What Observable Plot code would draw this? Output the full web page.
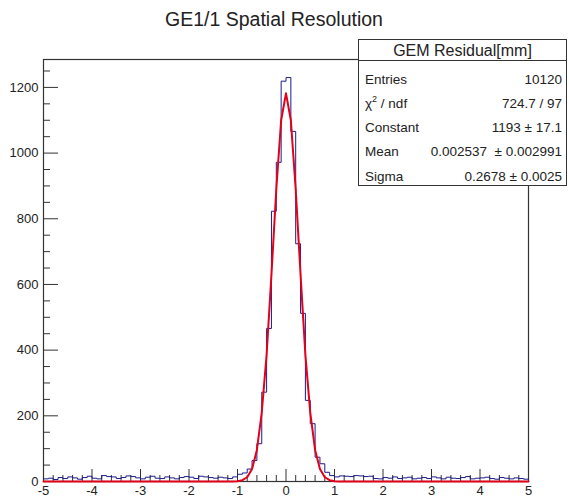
<!DOCTYPE html>
<html><head><meta charset="utf-8">
<script src="https://cdn.jsdelivr.net/npm/d3@7"></script>
<script src="https://cdn.jsdelivr.net/npm/@observablehq/plot@0.6"></script>
<style>
body{margin:0;background:#fff;font-family:"Liberation Sans",Arial,sans-serif;color:#222}
#wrap{position:relative;width:569px;height:497px;overflow:hidden}
#chart{position:absolute;left:0;top:0}
#title{position:absolute;left:0;top:8px;width:548px;text-align:center;font-size:19.5px;line-height:23px;color:#222}
#stats{position:absolute;left:358px;top:39px;width:209px;height:147px;border:1.5px solid #333;background:#fff;box-sizing:border-box}
#stats .hdr{position:absolute;left:0;top:0;width:100%;height:21px;border-bottom:1.5px solid #333;text-align:center;font-size:16px;line-height:22px;box-sizing:border-box}
#stats .row{position:absolute;left:6px;right:4px;height:24.3px;line-height:24.3px;font-size:13.5px}
#stats .row .l{position:absolute;left:0}
#stats .row .v{position:absolute;right:0;white-space:pre}
sup{font-size:9px;line-height:0;vertical-align:6px}
</style></head>
<body>
<div id="wrap">
  <div id="chart"></div>
  <div id="title"></div>
  <div id="stats"></div>
</div>
<script>
// ---- data ----
const titleText = "GE1/1 Spatial Resolution";
const statsTitle = "GEM Residual[mm]";
const statsLabels = ["Entries", "χ<sup>2</sup> / ndf", "Constant", "Mean", "Sigma"];
const statsValues = ["10120", "724.7 / 97", "1193 ± 17.1", "0.002537  ± 0.002991", "0.2678 ± 0.0025"];

// histogram: 100 bins of width 0.1 from -5 to 5 (counts per bin)
const binLowEdges = d3.range(100).map(i => +(-5 + i * 0.1).toFixed(1));
const binCounts = [
  8, 10, 6, 12, 9, 14, 11, 7, 12, 16,
  10, 8, 18, 15, 14, 9, 12, 17, 15, 11,
  8, 13, 16, 10, 9, 14, 11, 8, 12, 15,
  13, 9, 16, 14, 12, 10, 13, 11, 9, 14,
  22, 26, 38, 64, 115, 272, 466, 823, 972, 1219,
  1230, 1066, 724, 512, 247, 176, 74, 54, 28, 18,
  14, 17, 16, 15, 18, 17, 15, 16, 9, 8,
  12, 10, 14, 9, 11, 13, 8, 10, 12, 9,
  14, 11, 8, 13, 10, 9, 12, 15, 8, 10,
  11, 13, 9, 7, 12, 10, 8, 11, 9, 7
];
const histEnd = 5;

// gaussian fit curve
const fitX = [-5, -1.1, -1.0, -0.9, -0.8, -0.7, -0.6, -0.5, -0.4, -0.3, -0.2, -0.1, 0, 0.1, 0.2, 0.3, 0.4, 0.5, 0.6, 0.7, 0.8, 0.9, 1.0, 1.1, 5];
const fitY = [0, 0, 1, 4, 13, 38, 96, 210, 385, 630, 890, 1100, 1182, 1100, 890, 630, 385, 210, 96, 38, 13, 4, 1, 0, 0];

// axes
const xMajorTicks = [-5, -4, -3, -2, -1, 0, 1, 2, 3, 4, 5];
const xTickLabels = ["-5", "-4", "-3", "-2", "-1", "0", "1", "2", "3", "4", "5"];
const xMinorTicks = d3.range(-50, 51, 2).filter(v => v % 10 !== 0).map(v => v / 10);
const yMajorTicks = [0, 200, 400, 600, 800, 1000, 1200];
const yTickLabels = ["0", "200", "400", "600", "800", "1000", "1200"];
const yMinorTicks = [50, 100, 150, 250, 300, 350, 450, 500, 550, 650, 700, 750, 850, 900, 950, 1050, 1100, 1150, 1250];
const yMax = 1285;

// ---- build ----
const histPts = binLowEdges.map((x, i) => ({x, y: binCounts[i]}));
histPts.push({x: histEnd, y: binCounts[binCounts.length - 1]});
const fitPts = fitX.map((x, i) => ({x, y: fitY[i]}));

const W = 569, H = 497, mL = 43, mR = 41, mT = 59, mB = 16;
const pw = W - mL - mR, ph = H - mT - mB;

const chart = Plot.plot({
  width: W, height: H,
  marginLeft: mL, marginRight: mR, marginTop: mT, marginBottom: mB,
  x: {domain: [-5, 5]},
  y: {domain: [0, yMax]},
  style: {fontFamily: "'Liberation Sans', Arial, sans-serif", fontSize: "13px", color: "#222", background: "#fff"},
  marks: [
    Plot.frame({stroke: "#333", strokeWidth: 1.2}),
    Plot.tickX(xMajorTicks, {x: d => d, insetTop: ph - 12, stroke: "#333"}),
    Plot.tickX(xMinorTicks, {x: d => d, insetTop: ph - 6, stroke: "#333"}),
    Plot.tickY(yMajorTicks, {y: d => d, insetRight: pw - 15, stroke: "#333"}),
    Plot.tickY(yMinorTicks, {y: d => d, insetRight: pw - 7, stroke: "#333"}),
    Plot.line(histPts, {x: "x", y: "y", curve: "step-after", stroke: "#1c1c8a", strokeWidth: 1}),
    Plot.line(fitPts, {x: "x", y: "y", stroke: "#e2001a", strokeWidth: 2}),
    Plot.axisX(xMajorTicks, {tickSize: 0, tickPadding: 4, label: null, fontSize: 13,
      tickFormat: d => xTickLabels[xMajorTicks.indexOf(d)]}),
    Plot.axisY(yMajorTicks, {tickSize: 0, tickPadding: 5, label: null, fontSize: 13,
      tickFormat: d => yTickLabels[yMajorTicks.indexOf(d)]})
  ]
});
document.getElementById("chart").appendChild(chart);
document.getElementById("title").textContent = titleText;

const stats = document.getElementById("stats");
const hdr = document.createElement("div");
hdr.className = "hdr";
hdr.textContent = statsTitle;
stats.appendChild(hdr);
statsLabels.forEach((lab, i) => {
  const r = document.createElement("div");
  r.className = "row";
  r.style.top = (27.5 + i * 24.3) + "px";
  r.innerHTML = `<span class="l">${lab}</span><span class="v"></span>`;
  r.querySelector(".v").textContent = statsValues[i];
  stats.appendChild(r);
});
</script>
</body></html>
